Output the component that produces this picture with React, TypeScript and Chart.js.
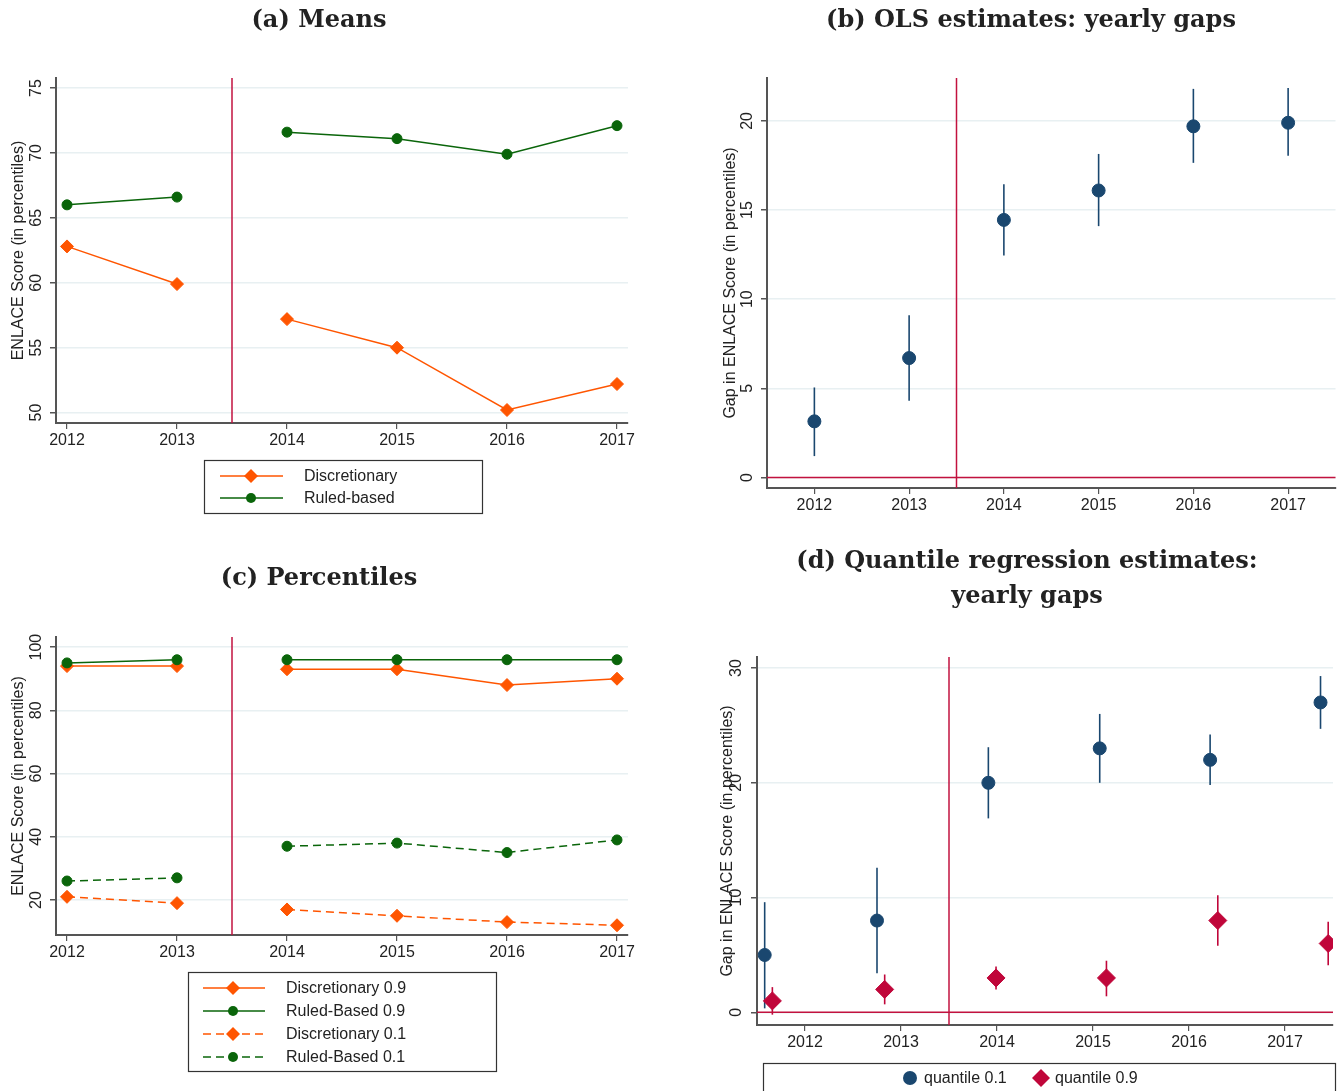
import React, { useEffect, useRef } from "react";
import { Chart, registerables } from "chart.js";
Chart.register(...registerables);

// ---------- data ----------
const years = [2012, 2013, 2014, 2015, 2016, 2017];
const cutoffYear = 2013.5;

// (a) Means
const meansDiscretionary = [62.8, 59.9, 57.2, 55.0, 50.2, 52.2];
const meansRuled = [66.0, 66.6, 71.6, 71.1, 69.9, 72.1];
const meansTicks = [50, 55, 60, 65, 70, 75];

// (b) OLS yearly gaps
const olsGap = [3.15, 6.7, 14.45, 16.1, 19.7, 19.9];
const olsLow = [1.2, 4.3, 12.45, 14.1, 17.65, 18.05];
const olsHigh = [5.05, 9.1, 16.45, 18.15, 21.8, 21.85];
const olsTicks = [0, 5, 10, 15, 20];

// (c) Percentiles
const pctDisc90 = [94, 94, 93, 93, 88, 90];
const pctRuled90 = [95, 96, 96, 96, 96, 96];
const pctDisc10 = [21, 19, 17, 15, 13, 12];
const pctRuled10 = [26, 27, 37, 38, 35, 39];
const pctTicks = [20, 40, 60, 80, 100];

// (d) Quantile regression yearly gaps
const q10X = [2011.58, 2012.75, 2013.91, 2015.07, 2016.22, 2017.37];
const q10Gap = [5, 8, 20, 23, 22, 27];
const q10Low = [0.35, 3.4, 16.9, 20.0, 19.8, 24.7];
const q10High = [9.6, 12.6, 23.1, 26.0, 24.2, 29.3];
const q90X = [2011.66, 2012.83, 2013.99, 2015.14, 2016.3, 2017.45];
const q90Gap = [1, 2, 3, 3, 8, 6];
const q90Low = [-0.2, 0.7, 2.0, 1.4, 5.8, 4.1];
const q90High = [2.2, 3.3, 4.0, 4.5, 10.2, 7.9];
const qTicks = [0, 10, 20, 30];

// ---------- styles ----------
const ORANGE = "#ff5500";
const GREEN = "#0a650a";
const NAVY = "#1a476f";
const CRIMSON = "#c0063a";
const REF = "#c2123f";
const AXIS = "#555555";
const GRID = "#e8f0f2";
const TEXT = "#222222";
const SANS = "'Liberation Sans', Arial, sans-serif";
const SERIF_BOLD = "bold 24px 'DejaVu Serif', serif";
const XH = 30;

type Geo = { w: number; h: number; L: number; R: number; T: number; B: number };

function gapped(vals: number[]) {
  const pts: { x: number; y: number | null }[] = [];
  years.forEach((yr, i) => {
    if (i === 2) pts.push({ x: cutoffYear, y: null });
    pts.push({ x: yr, y: vals[i] });
  });
  return pts;
}

function baseOptions(g: Geo, xr: number[], yr: number[], yTicks: number[]) {
  return {
    animation: false,
    responsive: false,
    maintainAspectRatio: false,
    layout: { padding: { left: 0, right: g.w - g.R, top: g.T, bottom: g.h - g.B - XH } },
    plugins: { legend: { display: false }, title: { display: false }, tooltip: { enabled: false } },
    scales: {
      x: {
        type: "linear",
        min: xr[0],
        max: xr[1],
        afterBuildTicks: (s: any) => {
          s.ticks = years.map((v) => ({ value: v }));
        },
        afterFit: (s: any) => {
          s.height = XH;
        },
        ticks: {
          autoSkip: false,
          maxRotation: 0,
          minRotation: 0,
          padding: 2,
          color: TEXT,
          font: { family: SANS, size: 16 },
          callback: (v: any) => String(v),
        },
        grid: { display: true, drawOnChartArea: false, drawTicks: true, tickLength: 6, tickColor: AXIS, lineWidth: 1.2 },
        border: { display: true, color: AXIS, width: 2 },
      },
      y: {
        type: "linear",
        min: yr[0],
        max: yr[1],
        afterBuildTicks: (s: any) => {
          s.ticks = yTicks.map((v) => ({ value: v }));
        },
        afterFit: (s: any) => {
          s.width = g.L;
        },
        ticks: { display: false },
        grid: { color: GRID, lineWidth: 1.5, tickColor: AXIS, tickLength: 6, drawTicks: true },
        border: { display: true, color: AXIS, width: 2 },
      },
    },
  };
}

type LegendItem = {
  label: string;
  y: number;
  marker: "circle" | "diamond";
  mx: number;
  mr: number;
  color: string;
  textX: number;
  line?: number[];
  dash?: number[];
};

type Decor = {
  titles: { text: string; x: number; y: number }[];
  yTicks: number[];
  yTickX: number;
  yTitle: string;
  yTitleX: number;
  vline?: number;
  hline?: number;
  errorBars?: { xs: number[]; lows: number[]; highs: number[]; color: string }[];
  legendBox: number[];
  legendItems: LegendItem[];
};

function drawMarker(ctx: CanvasRenderingContext2D, kind: string, x: number, y: number, r: number, color: string) {
  ctx.fillStyle = color;
  ctx.beginPath();
  if (kind === "circle") {
    ctx.arc(x, y, r, 0, Math.PI * 2);
  } else {
    ctx.moveTo(x, y - r);
    ctx.lineTo(x + r, y);
    ctx.lineTo(x, y + r);
    ctx.lineTo(x - r, y);
    ctx.closePath();
  }
  ctx.fill();
}

function makeDecor(d: Decor) {
  return {
    id: "decor",
    beforeDatasetsDraw(chart: any) {
      const { ctx, chartArea: a, scales } = chart;
      const x = scales.x;
      const y = scales.y;
      ctx.save();
      if (d.errorBars) {
        for (const eb of d.errorBars) {
          ctx.strokeStyle = eb.color;
          ctx.lineWidth = 1.6;
          eb.xs.forEach((xv, i) => {
            const px = x.getPixelForValue(xv);
            ctx.beginPath();
            ctx.moveTo(px, y.getPixelForValue(eb.lows[i]));
            ctx.lineTo(px, y.getPixelForValue(eb.highs[i]));
            ctx.stroke();
          });
        }
      }
      ctx.strokeStyle = REF;
      ctx.lineWidth = 1.5;
      if (d.vline !== undefined) {
        const px = x.getPixelForValue(d.vline);
        ctx.beginPath();
        ctx.moveTo(px, a.top);
        ctx.lineTo(px, a.bottom);
        ctx.stroke();
      }
      if (d.hline !== undefined) {
        const py = y.getPixelForValue(d.hline);
        ctx.beginPath();
        ctx.moveTo(a.left, py);
        ctx.lineTo(a.right, py);
        ctx.stroke();
      }
      ctx.restore();
    },
    afterDraw(chart: any) {
      const { ctx, chartArea: a, scales } = chart;
      const y = scales.y;
      ctx.save();
      // titles
      ctx.fillStyle = TEXT;
      ctx.font = SERIF_BOLD;
      ctx.textAlign = "center";
      ctx.textBaseline = "middle";
      for (const t of d.titles) ctx.fillText(t.text, t.x, t.y);
      // y tick labels (rotated)
      ctx.font = `16px ${SANS}`;
      for (const v of d.yTicks) {
        const py = y.getPixelForValue(v);
        ctx.save();
        ctx.translate(d.yTickX, py);
        ctx.rotate(-Math.PI / 2);
        ctx.fillText(String(v), 0, 0);
        ctx.restore();
      }
      // y title
      ctx.save();
      ctx.translate(d.yTitleX, (a.top + a.bottom) / 2);
      ctx.rotate(-Math.PI / 2);
      ctx.fillText(d.yTitle, 0, 0);
      ctx.restore();
      // legend
      const [bx, by, bw, bh] = d.legendBox;
      if (bw > 0) {
        ctx.strokeStyle = "#333";
        ctx.lineWidth = 1.2;
        ctx.strokeRect(bx + 0.5, by + 0.5, bw, bh);
      }
      for (const it of d.legendItems) {
        if (it.line) {
          ctx.strokeStyle = it.color;
          ctx.lineWidth = 1.5;
          ctx.setLineDash(it.dash || []);
          ctx.beginPath();
          ctx.moveTo(it.line[0], it.y);
          ctx.lineTo(it.line[1], it.y);
          ctx.stroke();
          ctx.setLineDash([]);
        }
        drawMarker(ctx, it.marker, it.mx, it.y, it.mr, it.color);
        ctx.fillStyle = TEXT;
        ctx.textAlign = "left";
        ctx.textBaseline = "middle";
        ctx.font = `16px ${SANS}`;
        ctx.fillText(it.label, it.textX, it.y + 1);
      }
      ctx.restore();
    },
  };
}

function lineDs(vals: number[], color: string, kind: "diamond" | "circle", order: number, dash?: number[]) {
  return {
    data: gapped(vals),
    borderColor: color,
    backgroundColor: color,
    borderWidth: 1.5,
    borderDash: dash || [],
    pointStyle: kind === "diamond" ? "rectRot" : "circle",
    pointRadius: kind === "diamond" ? 6.5 : 5,
    pointBorderWidth: 1,
    pointBorderColor: color,
    pointBackgroundColor: color,
    spanGaps: false,
    order,
  };
}

// ---------- panel configs ----------
function configA() {
  const g: Geo = { w: 671, h: 540, L: 56, R: 628, T: 78, B: 423 };
  return {
    type: "line",
    data: {
      datasets: [
        lineDs(meansDiscretionary, ORANGE, "diamond", 2),
        lineDs(meansRuled, GREEN, "circle", 1),
      ],
    },
    options: baseOptions(g, [2011.9, 2017.1], [49.2, 75.77], meansTicks),
    plugins: [
      makeDecor({
        titles: [{ text: "(a) Means", x: 319, y: 21 }],
        yTicks: meansTicks,
        yTickX: 37,
        yTitle: "ENLACE Score (in percentiles)",
        yTitleX: 19,
        vline: cutoffYear,
        legendBox: [204, 460, 278, 53],
        legendItems: [
          { label: "Discretionary", y: 476, marker: "diamond", mx: 251, mr: 7, color: ORANGE, textX: 304, line: [220, 283] },
          { label: "Ruled-based", y: 498, marker: "circle", mx: 251, mr: 5, color: GREEN, textX: 304, line: [220, 283] },
        ],
      }),
    ],
  };
}

function configB() {
  const g: Geo = { w: 672, h: 540, L: 96, R: 669, T: 78, B: 488 };
  return {
    type: "scatter",
    data: {
      datasets: [
        {
          data: years.map((yr, i) => ({ x: yr, y: olsGap[i] })),
          backgroundColor: NAVY,
          borderColor: NAVY,
          pointRadius: 6.5,
          pointBorderWidth: 1,
        },
      ],
    },
    options: baseOptions(g, [2011.5, 2017.5], [-0.59, 22.41], olsTicks),
    plugins: [
      makeDecor({
        titles: [{ text: "(b) OLS estimates: yearly gaps", x: 360, y: 21 }],
        yTicks: olsTicks,
        yTickX: 77,
        yTitle: "Gap in ENLACE Score (in percentiles)",
        yTitleX: 60,
        vline: cutoffYear,
        hline: 0,
        errorBars: [{ xs: years, lows: olsLow, highs: olsHigh, color: NAVY }],
        legendBox: [0, 0, 0, 0],
        legendItems: [],
      }),
    ],
  };
}

function configC() {
  const g: Geo = { w: 671, h: 551, L: 56, R: 628, T: 97, B: 395 };
  const lx = [203, 265];
  return {
    type: "line",
    data: {
      datasets: [
        lineDs(pctDisc90, ORANGE, "diamond", 4),
        lineDs(pctRuled90, GREEN, "circle", 3),
        lineDs(pctDisc10, ORANGE, "diamond", 2, [8, 5]),
        lineDs(pctRuled10, GREEN, "circle", 1, [8, 5]),
      ],
    },
    options: baseOptions(g, [2011.9, 2017.1], [8.92, 103.2], pctTicks),
    plugins: [
      makeDecor({
        titles: [{ text: "(c) Percentiles", x: 319, y: 39 }],
        yTicks: pctTicks,
        yTickX: 37,
        yTitle: "ENLACE Score (in percentiles)",
        yTitleX: 19,
        vline: cutoffYear,
        legendBox: [188, 432, 308, 99],
        legendItems: [
          { label: "Discretionary 0.9", y: 448, marker: "diamond", mx: 233, mr: 7, color: ORANGE, textX: 286, line: lx },
          { label: "Ruled-Based 0.9", y: 471, marker: "circle", mx: 233, mr: 5, color: GREEN, textX: 286, line: lx },
          { label: "Discretionary 0.1", y: 494, marker: "diamond", mx: 233, mr: 7, color: ORANGE, textX: 286, line: lx, dash: [8, 5] },
          { label: "Ruled-Based 0.1", y: 517, marker: "circle", mx: 233, mr: 5, color: GREEN, textX: 286, line: lx, dash: [8, 5] },
        ],
      }),
    ],
  };
}

function configD() {
  const g: Geo = { w: 672, h: 551, L: 86, R: 669, T: 117, B: 485 };
  return {
    type: "scatter",
    data: {
      datasets: [
        {
          data: q10X.map((xv, i) => ({ x: xv, y: q10Gap[i] })),
          backgroundColor: NAVY,
          borderColor: NAVY,
          pointRadius: 6.5,
          pointBorderWidth: 1,
          order: 2,
        },
        {
          data: q90X.map((xv, i) => ({ x: xv, y: q90Gap[i] })),
          backgroundColor: CRIMSON,
          borderColor: CRIMSON,
          pointStyle: "rectRot",
          pointRadius: 9,
          pointBorderWidth: 1,
          order: 1,
        },
      ],
    },
    options: baseOptions(g, [2011.5, 2017.5], [-1.1, 30.96], qTicks),
    plugins: [
      makeDecor({
        titles: [
          { text: "(d) Quantile regression estimates:", x: 356, y: 22 },
          { text: "yearly gaps", x: 356, y: 57 },
        ],
        yTicks: qTicks,
        yTickX: 66,
        yTitle: "Gap in ENLACE Score (in percentiles)",
        yTitleX: 57,
        vline: cutoffYear,
        hline: 0,
        errorBars: [
          { xs: q10X, lows: q10Low, highs: q10High, color: NAVY },
          { xs: q90X, lows: q90Low, highs: q90High, color: CRIMSON },
        ],
        legendBox: [92, 523, 572, 60],
        legendItems: [
          { label: "quantile 0.1", y: 538, marker: "circle", mx: 239, mr: 7, color: NAVY, textX: 253 },
          { label: "quantile 0.9", y: 538, marker: "diamond", mx: 370, mr: 9, color: CRIMSON, textX: 384 },
        ],
      }),
    ],
  };
}

function Panel(props: { left: number; top: number; width: number; height: number; make: () => any }) {
  const ref = useRef<HTMLCanvasElement>(null);
  useEffect(() => {
    const chart = new Chart(ref.current as HTMLCanvasElement, props.make());
    return () => chart.destroy();
  }, []);
  return (
    <canvas
      ref={ref}
      width={props.width}
      height={props.height}
      style={{ position: "absolute", left: props.left, top: props.top, width: props.width, height: props.height }}
    />
  );
}

export default function App() {
  return (
    <div style={{ position: "absolute", left: 0, top: 0, width: 1343, height: 1091, background: "#fff", overflow: "hidden" }}>
      <Panel left={0} top={0} width={671} height={540} make={configA} />
      <Panel left={671} top={0} width={672} height={540} make={configB} />
      <Panel left={0} top={540} width={671} height={551} make={configC} />
      <Panel left={671} top={540} width={672} height={551} make={configD} />
    </div>
  );
}
